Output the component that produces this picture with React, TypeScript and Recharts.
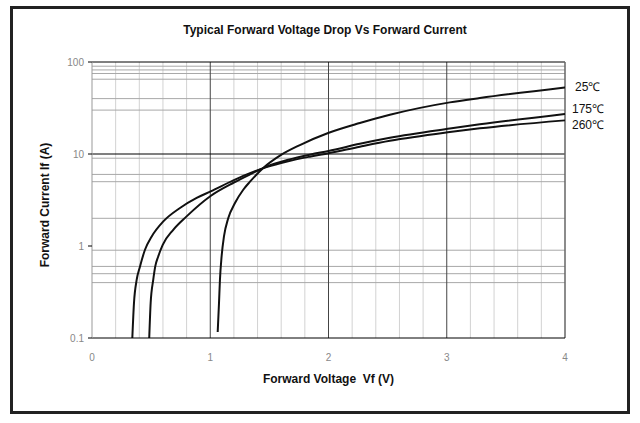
import React from "react";
import { LineChart, Line, XAxis, YAxis, ReferenceLine } from "recharts";

// forward voltage (V) / forward current (A)
const vf25 = [1.063, 1.074, 1.082, 1.096, 1.116, 1.152, 1.209, 1.279, 1.336, 1.448, 1.589, 1.758, 1.997, 2.265, 2.519, 3.026, 3.28, 4.0];
const if25 = [0.116, 0.24, 0.43, 0.77, 1.27, 2.0, 2.93, 4.09, 5.0, 7.05, 9.6, 12.5, 16.9, 21.7, 26.7, 36.4, 40.6, 53];

const vf175 = [0.484, 0.496, 0.518, 0.535, 0.56, 0.598, 0.687, 0.8, 1.003, 1.2, 1.336, 1.476, 1.65, 1.85, 2.0, 2.265, 2.519, 3.026, 3.28, 4.0];
const if175 = [0.1, 0.24, 0.43, 0.6, 0.77, 1.03, 1.5, 2.1, 3.5, 4.9, 6.0, 7.3, 8.6, 9.9, 10.8, 12.9, 15.0, 18.9, 21.0, 27.3];

const vf260 = [0.341, 0.355, 0.378, 0.406, 0.448, 0.505, 0.603, 0.744, 0.885, 1.003, 1.2, 1.336, 1.476, 1.65, 1.85, 2.0, 2.265, 2.519, 3.026, 3.28, 4.0];
const if260 = [0.1, 0.24, 0.43, 0.6, 0.91, 1.27, 1.85, 2.59, 3.33, 3.92, 5.2, 6.2, 7.2, 8.3, 9.4, 10.2, 12.0, 13.9, 17.3, 19.0, 23.2];

const xTicks = [0, 1, 2, 3, 4];
const yTicks = [0.1, 1, 10, 100];
const xMinor = [0.2, 0.4, 0.6, 0.8, 1.2, 1.4, 1.6, 1.8, 2.2, 2.4, 2.6, 2.8, 3.2, 3.4, 3.6, 3.8];
const xMajor = [1, 2, 3];
const yMinor = [0.4, 0.5, 0.6, 0.9, 2, 5, 6, 9, 30, 40, 65, 75, 82, 90];

const zip = (xs: number[], ys: number[]) => xs.map((v, i) => ({ vf: v, ifw: ys[i] }));

const series = [
  { name: "25\u2103", data: zip(vf25, if25), dx: 10, dy: 0 },
  { name: "175\u2103", data: zip(vf175, if175), dx: 7, dy: -4 },
  { name: "260\u2103", data: zip(vf260, if260), dx: 7, dy: 5 },
];

const endLabel = (text: string, n: number, dx: number, dy: number) => (p: any) => {
  if (p.index !== n - 1) return null;
  return (
    <text x={p.x + dx} y={p.y + dy} dominantBaseline="middle" fontSize={12} fill="#111">
      {text}
    </text>
  );
};

export default function App() {
  return (
    <div style={{ position: "absolute", left: 0, top: 0, width: 640, height: 423, background: "#fff", fontFamily: "Arial, 'Liberation Sans', sans-serif" }}>
      <div style={{ position: "absolute", left: 10, top: 6, width: 620, height: 408, border: "3px solid #222", boxSizing: "border-box" }} />
      <div style={{ position: "absolute", left: 0, width: 650, top: 23, textAlign: "center", fontWeight: "bold", fontSize: 12, color: "#111" }}>
        Typical Forward Voltage Drop Vs Forward Current
      </div>
      <div style={{ position: "absolute", left: 92, width: 473, top: 372, textAlign: "center", fontWeight: "bold", fontSize: 12, color: "#111", whiteSpace: "pre" }}>
        {"Forward Voltage  Vf (V)"}
      </div>
      <div style={{ position: "absolute", left: 45, top: 205, transform: "translate(-50%, -50%) rotate(-90deg)", fontWeight: "bold", fontSize: 12, color: "#111", whiteSpace: "nowrap" }}>
        Forward Current If (A)
      </div>
      <div style={{ position: "absolute", left: 0, top: 0 }}>
        <LineChart width={640} height={423} margin={{ top: 62, right: 75, bottom: 55, left: 52 }}>
          <XAxis
            type="number"
            dataKey="vf"
            domain={[0, 4]}
            ticks={xTicks}
            allowDuplicatedCategory={false}
            axisLine={{ stroke: "#000" }}
            tickLine={false}
            tickMargin={10}
            height={30}
            tick={{ fill: "#888", fontSize: 10 }}
          />
          <YAxis
            type="number"
            scale="log"
            domain={[0.1, 100]}
            ticks={yTicks}
            allowDataOverflow
            width={40}
            axisLine={{ stroke: "#999" }}
            tickLine={{ stroke: "#000" }}
            tickSize={4}
            tickMargin={4}
            tickFormatter={(v: number) => String(v)}
            tick={{ fill: "#888", fontSize: 10 }}
          />
          {xMinor.map((v) => (
            <ReferenceLine key={"xm" + v} x={v} stroke="#d2d2d2" strokeWidth={1} />
          ))}
          {yMinor.map((v) => (
            <ReferenceLine key={"ym" + v} y={v} stroke="#a8a8a8" strokeWidth={1} />
          ))}
          {xMajor.map((v) => (
            <ReferenceLine key={"xM" + v} x={v} stroke="#444" strokeWidth={1} />
          ))}
          <ReferenceLine y={10} stroke="#000" strokeWidth={1} />
          <ReferenceLine y={100} stroke="#000" strokeWidth={1} />
          <ReferenceLine x={4} stroke="#666" strokeWidth={1.5} />
          {series.map((s) => (
            <Line
              key={s.name}
              data={s.data}
              dataKey="ifw"
              type="monotone"
              stroke="#111"
              strokeWidth={2}
              dot={false}
              isAnimationActive={false}
              label={endLabel(s.name, s.data.length, s.dx, s.dy)}
            />
          ))}
        </LineChart>
      </div>
    </div>
  );
}
